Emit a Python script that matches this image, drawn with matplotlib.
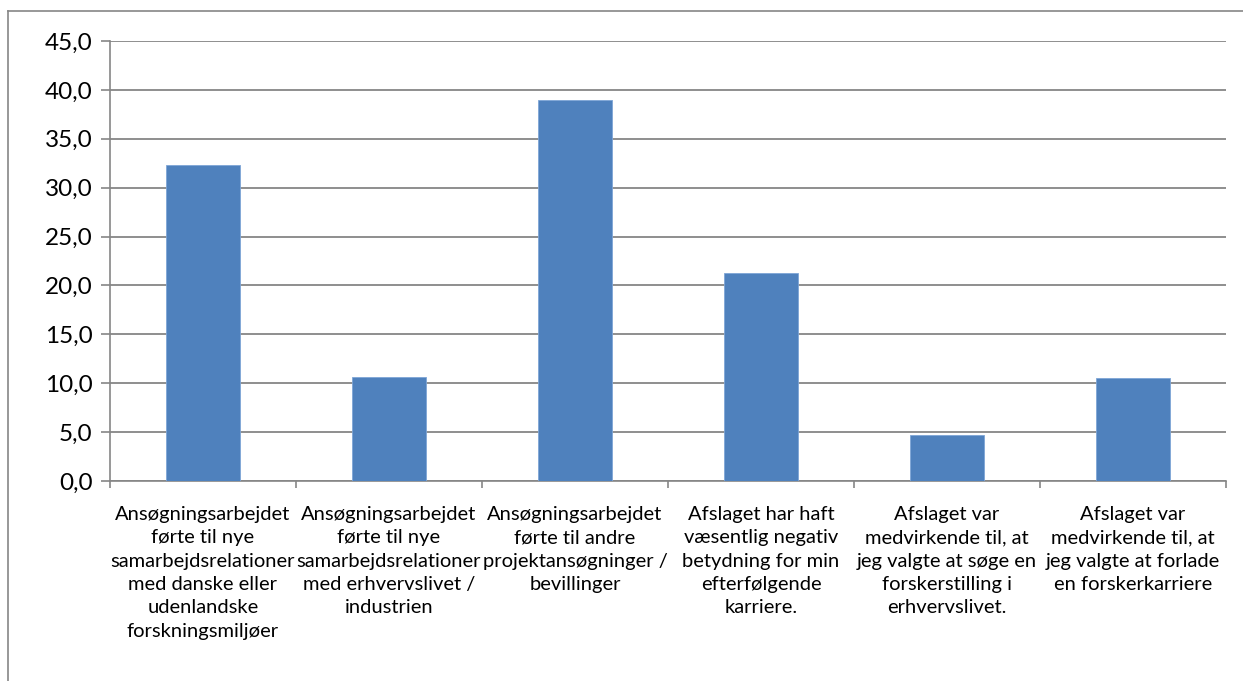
import matplotlib
matplotlib.use("Agg")
import matplotlib.pyplot as plt
from matplotlib.lines import Line2D
from matplotlib.ticker import FuncFormatter

# data
kategorier = [
    "Ansøgningsarbejdet\nførte til nye\nsamarbejdsrelationer\nmed danske eller\nudenlandske\nforskningsmiljøer",
    "Ansøgningsarbejdet\nførte til nye\nsamarbejdsrelationer\nmed erhvervslivet /\nindustrien",
    "Ansøgningsarbejdet\nførte til andre\nprojektansøgninger /\nbevillinger",
    "Afslaget har haft\nvæsentlig negativ\nbetydning for min\nefterfølgende\nkarriere.",
    "Afslaget var\nmedvirkende til, at\njeg valgte at søge en\nforskerstilling i\nerhvervslivet.",
    "Afslaget var\nmedvirkende til, at\njeg valgte at forlade\nen forskerkarriere",
]
vaerdier = [32.3, 10.6, 39.0, 21.3, 4.7, 10.5]
y_ticks = [0, 5, 10, 15, 20, 25, 30, 35, 40, 45]

plt.rcParams['font.family'] = ['Lato', 'DejaVu Sans']

W, H = 1243, 681
fig = plt.figure(figsize=(W / 100, H / 100), dpi=100)
grey = '#868686'

# ydre ramme
fig.add_artist(Line2D([8 / W, 1], [1 - 11 / H, 1 - 11 / H], color=grey, lw=1.2))
fig.add_artist(Line2D([8 / W, 8 / W], [0, 1 - 11 / H], color=grey, lw=1.2))

ax = fig.add_axes([110 / W, 1 - 481 / H, (1226 - 110) / W, (481 - 41) / H])
x = list(range(len(vaerdier)))
ax.bar(x, vaerdier, width=0.4, color='#4f81bd', edgecolor='#7ea5d6', linewidth=0.6, zorder=3)

ax.set_xlim(-0.5, len(vaerdier) - 0.5)
ax.set_ylim(0, 45)
ax.set_yticks(y_ticks)
ax.yaxis.set_major_formatter(FuncFormatter(lambda v, p: f"{v:.1f}".replace('.', ',')))
ax.grid(axis='y', color=grey, lw=1.3, zorder=0)

for s in ['top', 'right']:
    ax.spines[s].set_visible(False)
for s in ['left', 'bottom']:
    ax.spines[s].set_color(grey)
    ax.spines[s].set_linewidth(1.2)

ax.tick_params(axis='y', length=6.5, width=1.2, color=grey, labelsize=17.5, pad=6)
ax.set_xticks(x)
ax.set_xticklabels(kategorier, fontsize=14.5, linespacing=1.45)
ax.tick_params(axis='x', which='major', length=0, pad=18)
ax.set_xticks([i - 0.5 for i in range(len(vaerdier) + 1)], minor=True)
ax.tick_params(axis='x', which='minor', length=5, width=1.2, color=grey)

fig.savefig('out.png', dpi=100)
